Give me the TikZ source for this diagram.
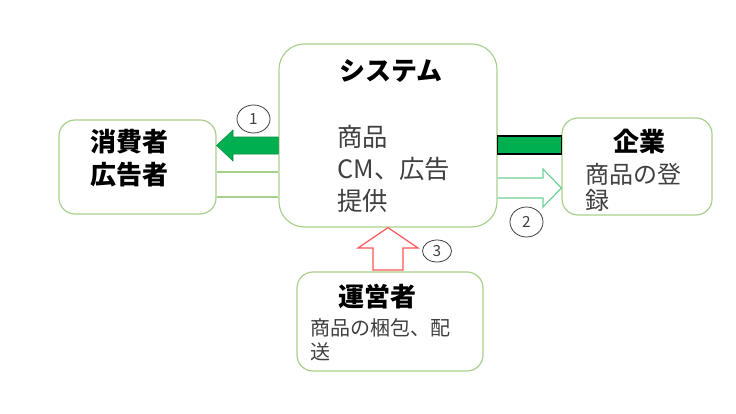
\documentclass[tikz,border=0pt]{standalone}
\usepackage{fontspec}
\setmainfont{Noto Sans CJK JP}
\usetikzlibrary{shapes.geometric}
\definecolor{boxgreen}{RGB}{169,209,142}
\definecolor{fillgreen}{RGB}{0,176,80}
\definecolor{mint}{RGB}{110,210,150}
\definecolor{redarrow}{RGB}{255,85,85}
\definecolor{txt}{RGB}{64,64,64}
\begin{document}
\begin{tikzpicture}[x=0.75pt,y=-0.75pt,
  box/.style={draw=boxgreen, line width=0.9pt, fill=white, inner sep=0pt, rounded corners=#1},
  box/.default=12pt,
  ttl/.style={inner sep=0pt, anchor=base, text=black, font=\fontsize{19.5pt}{23pt}\selectfont\bfseries},
  body/.style={inner sep=0pt, anchor=base west, text=txt},
  num/.style={draw=txt, ellipse, line width=0.6pt, inner sep=0pt, text=txt, font=\fontsize{11.5pt}{13pt}\selectfont}
]
\fill[white] (0,0) rectangle (736,414);
\useasboundingbox (0,0) rectangle (736,414);

% boxes
\node[box=19pt, minimum width=218*0.75pt, minimum height=183*0.75pt] (sys) at (388,135.5) {};
\node[box, minimum width=157*0.75pt, minimum height=94*0.75pt] (cons) at (137.5,167) {};
\node[box, minimum width=150*0.75pt, minimum height=97*0.75pt] (comp) at (637,166.5) {};
\node[box, minimum width=186*0.75pt, minimum height=99*0.75pt] (oper) at (390,321.5) {};

% connectors
\draw[boxgreen, line width=0.9pt] (cons.east |- 0,172) -- (sys.west |- 0,172);
\draw[boxgreen, line width=0.9pt] (cons.east |- 0,197) -- (sys.west |- 0,197);
\filldraw[fill=fillgreen, draw=fillgreen!80!black, line width=0.4pt]
  (sys.west |- 0,137) -- (233,137) -- (233,130) -- (cons.east |- 0,145.5) -- (233,161) -- (233,154) -- (sys.west |- 0,154) -- cycle;
\filldraw[fill=fillgreen, draw=black, line width=0.8pt] (sys.east |- 0,136) rectangle (comp.west |- 0,154);
\draw[mint, line width=0.9pt, line join=miter]
  (sys.east |- 0,178) -- (543,178) -- (543,169) -- (comp.west |- 0,188) -- (543,207) -- (543,198) -- (sys.east |- 0,198);
\draw[redarrow, line width=0.9pt, line join=miter]
  (373,270) -- (373,248) -- (358,248) -- (sys.south) -- (418,248) -- (403,248) -- (403,270) -- cycle;

% numbers
\node[num, minimum width=33*0.75pt, minimum height=28*0.75pt] (n1) at (253.5,119) {1};
\node[num, minimum width=33*0.75pt, minimum height=30*0.75pt] (n2) at (526.5,222) {2};
\node[num, minimum width=29*0.75pt, minimum height=22*0.75pt] (n3) at (437,251) {3};

% texts
\node[ttl] (systitle) at (391,80) {システム};
\node[body, font=\fontsize{19pt}{23pt}\selectfont] (s1) at (337,146) {商品};
\node[body, font=\fontsize{19pt}{23pt}\selectfont] (s2) at (337,178) {CM、広告};
\node[body, font=\fontsize{19pt}{23pt}\selectfont] (s3) at (337,210) {提供};

\node[ttl] (c1) at (129,151) {消費者};
\node[ttl] (c2) at (129,184) {広告者};

\node[ttl] (comptitle) at (639,151) {企業};
\node[body, font=\fontsize{18pt}{22pt}\selectfont] (k1) at (585,183) {商品の登};
\node[body, font=\fontsize{18pt}{22pt}\selectfont] (k2) at (585,209) {録};

\node[ttl] (opertitle) at (377.5,306) {運営者};
\node[body, font=\fontsize{15pt}{18pt}\selectfont] (o1) at (310,335) {商品の梱包、配};
\node[body, font=\fontsize{15pt}{18pt}\selectfont] (o2) at (310,359) {送};
\end{tikzpicture}
\end{document}
